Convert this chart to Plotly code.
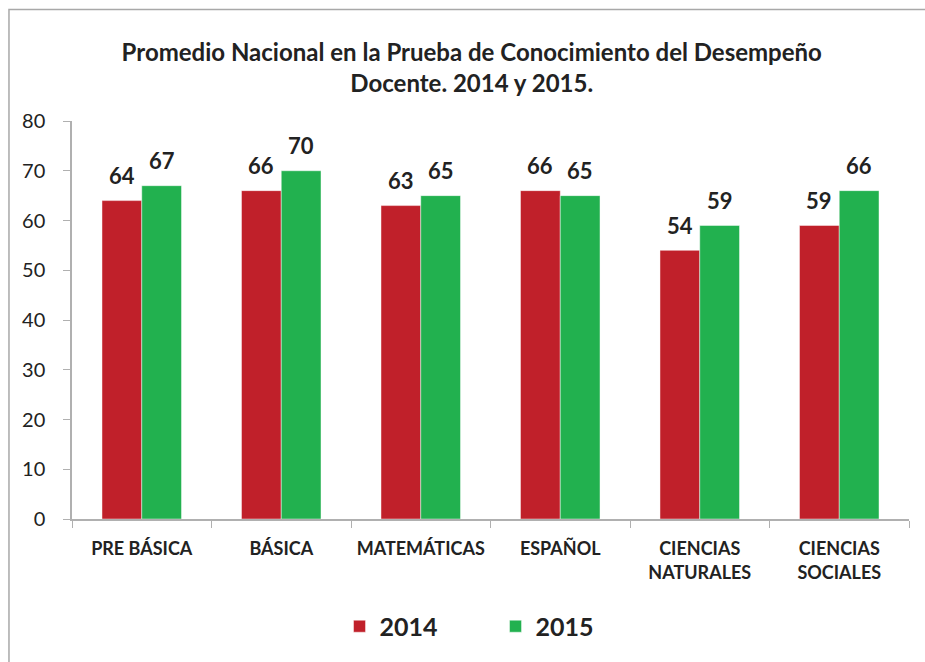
import plotly.graph_objects as go

# Datos: promedio nacional por área, 2014 y 2015
categorias = ["PRE BÁSICA", "BÁSICA", "MATEMÁTICAS", "ESPAÑOL",
              "CIENCIAS<br>NATURALES", "CIENCIAS<br>SOCIALES"]
valores_2014 = [64, 66, 63, 66, 54, 59]
valores_2015 = [67, 70, 65, 65, 59, 66]
anios = ["2014", "2015"]
colores = ["#C0202A", "#22B14F"]
ticks_y = [0, 10, 20, 30, 40, 50, 60, 70, 80]

FUENTE = "Lato"
TEXTO = "#222222"

fig = go.Figure()
series = [valores_2014, valores_2015]
for nombre, vals, color in zip(anios, series, colores):
    fig.add_trace(go.Bar(
        name=nombre, x=categorias, y=vals,
        marker=dict(color=color, line=dict(color="rgba(255,255,255,0.45)", width=1)),
    ))

# Etiquetas de valor sobre cada barra
desplazamiento = [-20, 20]
for vals, dx in zip(series, desplazamiento):
    for cat, v in zip(categorias, vals):
        fig.add_annotation(
            x=cat, y=v, xref="x", yref="y", text=f"<b>{v}</b>",
            showarrow=False, xshift=dx, yshift=25, yanchor="middle",
            font=dict(family=FUENTE, size=22, color=TEXTO),
        )

# Marco del gráfico (bordes superior e izquierdo)
fig.add_shape(type="rect", xref="paper", yref="paper",
              x0=-0.0753, x1=1.2, y0=-0.6, y1=1.28,
              line=dict(color="#A8A8A8", width=1.5), layer="below")

fig.update_layout(
    width=925, height=662,
    margin=dict(l=72, r=16, t=121, b=141),
    paper_bgcolor="white", plot_bgcolor="white",
    barmode="group", bargap=0.43, bargroupgap=0,
    title=dict(
        text="<b>Promedio Nacional en la Prueba de Conocimiento del Desempeño<br>Docente. 2014 y 2015.</b>",
        x=0.51, xanchor="center", y=1 - 61 / 662, yanchor="middle", yref="container",
        font=dict(family=FUENTE, size=24, color=TEXTO),
    ),
    font=dict(family=FUENTE, color=TEXTO),
    legend=dict(
        orientation="h", x=0.506, xanchor="center", y=-0.27, yanchor="middle",
        font=dict(family=FUENTE, size=25, color=TEXTO, weight="bold"),
        entrywidth=111, itemclick=False,
    ),
    xaxis=dict(
        showline=True, linecolor="#B0B0B0", linewidth=1.5,
        ticks="outside", tickson="boundaries", ticklen=7, tickcolor="#B0B0B0",
        tickfont=dict(family=FUENTE, size=18, color=TEXTO, weight="bold"),
        ticklabelstandoff=13,
        showgrid=False,
    ),
    yaxis=dict(
        range=[0, 80], tickvals=ticks_y,
        showline=True, linecolor="#B0B0B0", linewidth=1.5,
        ticks="outside", ticklen=7, tickcolor="#B0B0B0",
        tickfont=dict(family=FUENTE, size=20, color=TEXTO),
        ticklabelstandoff=14,
        showgrid=False, zeroline=False,
    ),
)

fig.write_html("out.html")
